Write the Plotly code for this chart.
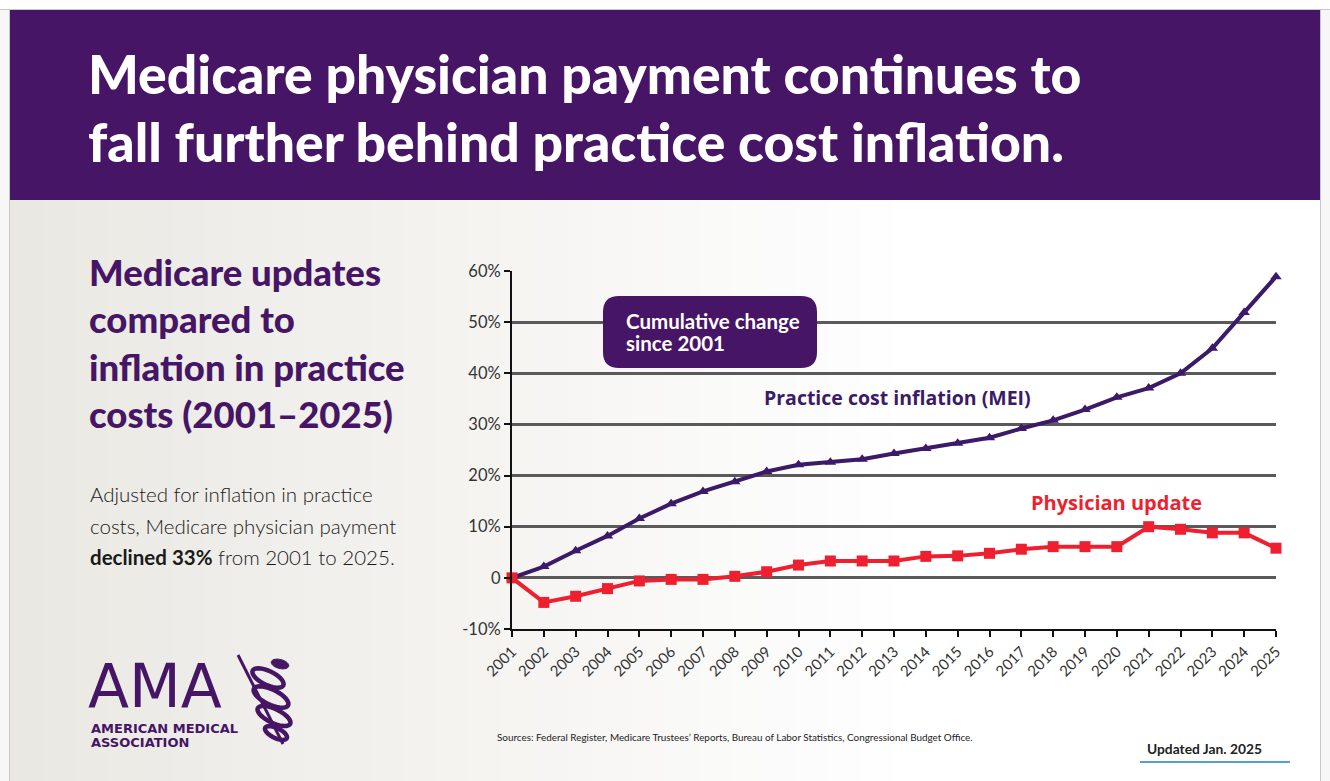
import math
import plotly.graph_objects as go

# Data (cumulative change since 2001, %)
years = list(range(2001, 2026))
mei = [0, 2.2, 5.3, 8.2, 11.6, 14.5, 16.9, 18.8, 20.8, 22.1, 22.6, 23.2, 24.3,
       25.3, 26.3, 27.4, 29.2, 30.8, 32.9, 35.3, 37.1, 40.0, 44.9, 51.9, 58.9]
physician = [0, -4.8, -3.6, -2.1, -0.6, -0.3, -0.3, 0.3, 1.2, 2.5, 3.3, 3.3, 3.3,
             4.2, 4.3, 4.8, 5.6, 6.1, 6.1, 6.1, 10.0, 9.5, 8.8, 8.8, 5.8]
y_ticks = [-10, 0, 10, 20, 30, 40, 50, 60]
y_labels = ["-10%", "0", "10%", "20%", "30%", "40%", "50%", "60%"]

W, H = 1330, 781
PURPLE = "#461565"
INDIGO = "#3b1a68"
RED = "#ee1f2f"
COND = "Lato, sans-serif"


def px(x):
    return x / W


def py(y):
    return 1 - y / H


fig = go.Figure()

fig.add_trace(go.Scatter(
    x=years, y=mei, mode="lines+markers", cliponaxis=False,
    line=dict(color=INDIGO, width=4),
    marker=dict(symbol="triangle-up", size=10, color=INDIGO),
    name="Practice cost inflation (MEI)"))
fig.add_trace(go.Scatter(
    x=years, y=physician, mode="lines+markers", cliponaxis=False,
    line=dict(color=RED, width=4),
    marker=dict(symbol="square", size=11, color=RED),
    name="Physician update"))

shapes = []
# page background / frame
shapes.append(dict(type="rect", xref="paper", yref="paper", x0=px(0), x1=px(1330),
                   y0=py(0), y1=py(9), fillcolor="#ffffff", line_width=0, layer="below"))
# gradient panel
n = 40
x_start, x_end = 10, 1320
for i in range(n):
    t = i / (n - 1)
    f = min(1.0, t / 0.7)
    c0 = (234, 232, 227)
    c = tuple(int(round(c0[k] + (255 - c0[k]) * f)) for k in range(3))
    xa = x_start + (x_end - x_start) * i / n
    xb = x_start + (x_end - x_start) * (i + 1) / n + 1
    shapes.append(dict(type="rect", xref="paper", yref="paper", x0=px(xa), x1=px(min(xb, x_end)),
                       y0=py(781), y1=py(200), fillcolor="rgb(%d,%d,%d)" % c,
                       line_width=0, layer="below"))
# frame lines
shapes.append(dict(type="line", xref="paper", yref="paper", x0=px(9.5), x1=px(9.5),
                   y0=py(9), y1=py(781), line=dict(color="#c8c8c8", width=1), layer="below"))
shapes.append(dict(type="line", xref="paper", yref="paper", x0=px(1320.5), x1=px(1320.5),
                   y0=py(9), y1=py(781), line=dict(color="#c8c8c8", width=1), layer="below"))
shapes.append(dict(type="line", xref="paper", yref="paper", x0=px(0), x1=px(1330),
                   y0=py(9.5), y1=py(9.5), line=dict(color="#c8c8c8", width=1), layer="below"))
# header band
shapes.append(dict(type="rect", xref="paper", yref="paper", x0=px(10), x1=px(1320),
                   y0=py(200), y1=py(10), fillcolor=PURPLE, line_width=0, layer="below"))

# rounded callout box
bx0, bx1, by0, by1, r = 603, 817, 296, 368, 16
path = (f"M {px(bx0 + r)},{py(by0)} L {px(bx1 - r)},{py(by0)} "
        f"Q {px(bx1)},{py(by0)} {px(bx1)},{py(by0 + r)} L {px(bx1)},{py(by1 - r)} "
        f"Q {px(bx1)},{py(by1)} {px(bx1 - r)},{py(by1)} L {px(bx0 + r)},{py(by1)} "
        f"Q {px(bx0)},{py(by1)} {px(bx0)},{py(by1 - r)} L {px(bx0)},{py(by0 + r)} "
        f"Q {px(bx0)},{py(by0)} {px(bx0 + r)},{py(by0)} Z")
shapes.append(dict(type="path", xref="paper", yref="paper", path=path,
                   fillcolor=PURPLE, line_width=0, layer="above"))

# "Updated" underline
shapes.append(dict(type="line", xref="paper", yref="paper", x0=px(1140), x1=px(1290),
                   y0=py(762), y1=py(762), line=dict(color="#1b7fc0", width=1.5)))

# AMA staff + snake coils (logo sketch)
shapes.append(dict(type="line", xref="paper", yref="paper", x0=px(238), x1=px(283),
                   y0=py(655), y1=py(744), line=dict(color=PURPLE, width=3)))


def ellipse_path(cx, cy, rx, ry, ang):
    pts = []
    for k in range(37):
        a = 2 * math.pi * k / 36
        ex, ey = rx * math.cos(a), ry * math.sin(a)
        xr = cx + ex * math.cos(ang) - ey * math.sin(ang)
        yr = cy + ex * math.sin(ang) + ey * math.cos(ang)
        pts.append(f"{px(xr)},{py(yr)}")
    return "M " + " L ".join(pts) + " Z"


for cx, cy, rx, ry in [(268, 678, 17, 7), (271, 697, 19, 7.5), (274, 716, 18, 7), (276, 733, 12, 5)]:
    shapes.append(dict(type="path", xref="paper", yref="paper",
                       path=ellipse_path(cx, cy, rx, ry, 0.45),
                       line=dict(color=PURPLE, width=4.5)))
shapes.append(dict(type="path", xref="paper", yref="paper",
                   path=ellipse_path(280, 664, 9, 4.5, 0.25),
                   fillcolor=PURPLE, line=dict(color=PURPLE, width=1)))

annotations = []


def txt(x, y, text, size, color, family=COND, xanchor="left", yanchor="middle",
        bold=False, weight=None):
    if bold:
        text = "<b>" + text + "</b>"
    font = dict(size=size, color=color, family=family)
    if weight is not None:
        font["weight"] = weight
    annotations.append(dict(x=px(x), y=py(y), xref="paper", yref="paper", text=text,
                            showarrow=False, xanchor=xanchor, yanchor=yanchor, align="left",
                            font=font))


# header
txt(86, 73, "Medicare physician payment continues to", 53.5, "white", weight=900)
txt(86, 141, "fall further behind practice cost inflation.", 53.5, "white", weight=900)

# left heading
for i, line in enumerate(["Medicare updates", "compared to", "inflation in practice",
                          "costs (2001\u20132025)"]):
    txt(87, 272 + i * 47.3, line, 36.5, PURPLE, weight=900)

# body
txt(88, 494, "Adjusted for inflation in practice", 20.5, "#1a1a1a", weight=300)
txt(88, 526, "costs, Medicare physician payment", 20.5, "#1a1a1a", weight=300)
txt(88, 557, "<b>declined 33%</b> from 2001 to 2025.", 20.5, "#1a1a1a", weight=300)

# chart labels
txt(603 + 21, 321, "Cumulative change", 20.5, "white", bold=True)
txt(603 + 21, 343, "since 2001", 20.5, "white", bold=True)
txt(897, 397, "Practice cost inflation (MEI)", 19.5, INDIGO, xanchor="center", bold=True,
    family="Open Sans, sans-serif")
txt(1116, 502, "Physician update", 20, RED, xanchor="center", bold=True,
    family="Open Sans, sans-serif")

# logo text
txt(86, 686, "AMA", 60, PURPLE, family="DejaVu Sans, sans-serif")
txt(89, 728, "AMERICAN MEDICAL", 13, PURPLE, family="DejaVu Sans, sans-serif", bold=True)
txt(89, 742, "ASSOCIATION", 13, PURPLE, family="DejaVu Sans, sans-serif", bold=True)

# footer
txt(495, 737, "Sources: Federal Register, Medicare Trustees\u2019 Reports, Bureau of Labor Statistics, "
    "Congressional Budget Office.", 9.9, "#222222")
txt(1145, 748, "Updated Jan. 2025", 13.8, "#222222", bold=True)

fig.update_layout(
    width=W, height=H,
    margin=dict(l=0, r=0, t=0, b=0, autoexpand=False),
    paper_bgcolor="#f7f7f7",
    plot_bgcolor="rgba(0,0,0,0)",
    showlegend=False,
    shapes=shapes,
    annotations=annotations,
    xaxis=dict(domain=[px(512), px(1276)], range=[2001, 2025], tickvals=years,
               ticktext=[str(y) for y in years], tickangle=-45, ticks="outside",
               ticklen=6, tickwidth=2, tickcolor="#111111", showline=True,
               linecolor="#111111", linewidth=2, showgrid=False, zeroline=False,
               tickfont=dict(family=COND, size=15, color="#333333")),
    yaxis=dict(domain=[py(629), py(271)], range=[-10, 60], tickvals=y_ticks,
               ticktext=y_labels, ticks="outside", ticklen=6, tickwidth=2,
               tickcolor="#111111", showline=True, linecolor="#111111", linewidth=2,
               showgrid=True, gridcolor="#5a5a5a", gridwidth=2.5, zeroline=False,
               tickfont=dict(family=COND, size=16.5, color="#333333")),
)

fig.write_html("out.html", config={"displayModeBar": False},
               post_script="document.body.style.margin='0';")
